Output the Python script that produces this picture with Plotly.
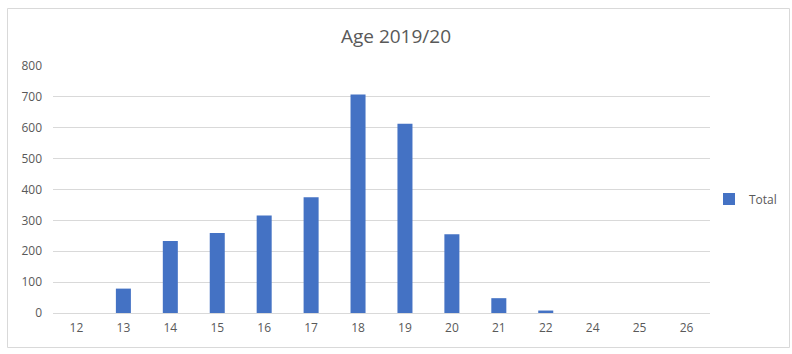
import plotly.graph_objects as go

ages = ["12", "13", "14", "15", "16", "17", "18", "19", "20", "21", "22", "24", "25", "26"]
totals = [0, 79, 233, 259, 316, 375, 708, 613, 255, 48, 8, 0, 0, 0]
series_name = "Total"
title_text = "Age 2019/20"

W, H = 792, 354
L, R, T, B = 53, 710, 66, 313

fig = go.Figure()
fig.add_trace(go.Bar(x=ages, y=totals, name=series_name, marker=dict(color="#4472C4", line=dict(width=0))))

def px_to_paper_x(px):
    return (px - L) / (R - L)

def px_to_paper_y(py):
    return (B - py) / (B - T)

fig.update_layout(
    width=W, height=H,
    margin=dict(l=L, r=W - R, t=T, b=H - B, pad=0, autoexpand=False),
    paper_bgcolor="white", plot_bgcolor="white",
    font=dict(family="Open Sans, Noto Sans, sans-serif", color="#595959", size=12),
    title=dict(text=title_text, x=0.5, xanchor="center", y=1 - 36 / H, yanchor="middle",
               font=dict(size=19, color="#595959")),
    bargap=0.68,
    showlegend=True,
    legend=dict(x=px_to_paper_x(709), y=px_to_paper_y(199), xanchor="left", yanchor="middle",
                font=dict(size=12, color="#595959"), bgcolor="rgba(0,0,0,0)",
                itemwidth=30),
    xaxis=dict(type="category", showgrid=False, showline=False, ticks="",
               tickfont=dict(size=12, color="#595959"), ticklabelstandoff=6),
    yaxis=dict(range=[0, 800], dtick=100, showgrid=True, gridcolor="#d9d9d9", gridwidth=1,
               zeroline=True, zerolinecolor="#d9d9d9", zerolinewidth=1, showline=False, ticks="",
               tickfont=dict(size=12, color="#595959"), ticklabelstandoff=10),
    shapes=[dict(type="rect", xref="paper", yref="paper",
                 x0=px_to_paper_x(7.5), x1=px_to_paper_x(789.5),
                 y0=px_to_paper_y(347.5), y1=px_to_paper_y(8.5),
                 line=dict(color="#d9d9d9", width=1), fillcolor="rgba(0,0,0,0)", layer="below")],
)

fig.write_html("out.html")
